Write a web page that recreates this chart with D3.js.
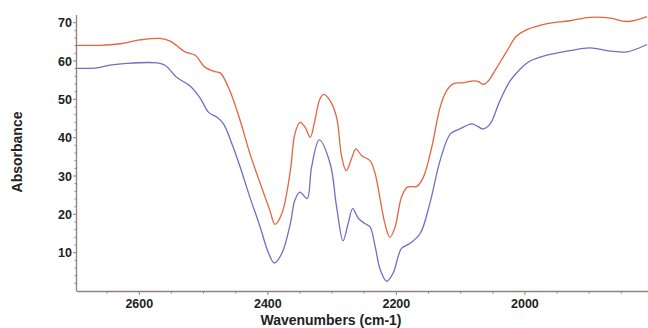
<!DOCTYPE html>
<html>
  <head>
    <meta charset="utf-8">
    <title>spectrum</title>
    <style>
      body { margin: 0; background: #fff; }
      text { font-family: Arial, "Liberation Sans", sans-serif; font-weight: bold; fill: #222; }
    </style>
  </head>
  <body>
    <script src="https://cdn.jsdelivr.net/npm/d3@7"></script>
    <script>
      var width = 648, height = 328;

      // upper (red) trace: wavenumber / value
      var redWave = [2697, 2661, 2630, 2599, 2568, 2552, 2529, 2513, 2498, 2482, 2474, 2459, 2443, 2428, 2412, 2397, 2389, 2378, 2365, 2358, 2350, 2342, 2334, 2327, 2319, 2313, 2303, 2293, 2285, 2278, 2269, 2263, 2254, 2241, 2233, 2225, 2218, 2210, 2202, 2192, 2183, 2168, 2158, 2145, 2132, 2122, 2111, 2096, 2080, 2072, 2065, 2057, 2044, 2028, 2013, 1997, 1976, 1961, 1930, 1899, 1867, 1841, 1810];
      var redVal = [64.1, 64.1, 64.5, 65.5, 65.9, 65.2, 62.4, 61.5, 58.4, 57.2, 56.9, 52.2, 44.4, 35.9, 28.1, 21.1, 17.4, 20.3, 31.4, 41.0, 44.0, 42.7, 40.1, 44.4, 50.1, 51.3, 49.6, 45.3, 34.9, 31.4, 34.9, 37.1, 35.3, 34.0, 30.6, 23.7, 17.7, 14.0, 16.7, 24.5, 27.1, 27.3, 29.7, 37.5, 47.9, 52.2, 54.1, 54.3, 54.8, 54.6, 53.9, 54.8, 58.2, 62.6, 66.5, 68.2, 69.3, 69.9, 70.5, 71.4, 71.2, 70.3, 71.6];

      // lower (blue) trace
      var blueWave = [2697, 2666, 2646, 2619, 2572, 2560, 2541, 2521, 2506, 2492, 2479, 2469, 2456, 2443, 2428, 2412, 2399, 2390, 2378, 2365, 2358, 2350, 2339, 2332, 2320, 2303, 2293, 2283, 2275, 2268, 2259, 2249, 2241, 2233, 2225, 2215, 2205, 2192, 2179, 2163, 2148, 2132, 2116, 2101, 2083, 2075, 2065, 2054, 2039, 2023, 2008, 1992, 1976, 1961, 1930, 1899, 1867, 1841, 1810];
      var blueVal = [58.1, 58.2, 58.9, 59.4, 59.5, 58.9, 55.6, 53.5, 50.5, 46.6, 45.3, 43.6, 38.4, 32.3, 24.5, 16.7, 9.9, 7.3, 9.9, 17.6, 23.7, 25.8, 24.1, 32.3, 39.4, 33.2, 21.9, 13.1, 17.6, 21.5, 18.9, 17.6, 16.7, 11.6, 5.5, 2.5, 4.7, 11.1, 12.4, 15.0, 22.8, 34.0, 41.0, 42.3, 43.6, 43.1, 42.3, 43.6, 49.6, 54.8, 57.8, 60.0, 61.0, 61.7, 62.7, 63.4, 62.6, 62.4, 64.3];

      var xTicks = [2600, 2400, 2200, 2000];
      var yTicks = [10, 20, 30, 40, 50, 60, 70];

      // plot box (named so they don't clash with window.top)
      var plotL = 77, plotR = 647, plotT = 15, plotB = 291;

      var x = d3.scaleLinear().domain([2697, 1810]).range([plotL, plotR]);
      var y = d3.scaleLinear().domain([0, 72]).range([plotB, plotT]);

      var svg = d3.select("body").append("svg")
        .attr("width", width)
        .attr("height", height);

      svg.append("defs").append("clipPath").attr("id", "plot")
        .append("rect")
        .attr("x", plotL).attr("y", plotT - 5)
        .attr("width", plotR - plotL + 2).attr("height", plotB - plotT + 5);

      var axisColor = "#8f817c";

      // minor ticks
      var g = svg.append("g");
      g.selectAll(".xm")
        .data(d3.range(1850, 2700, 50))
        .enter().append("line")
        .attr("x1", d => x(d)).attr("x2", d => x(d))
        .attr("y1", plotB).attr("y2", d => xTicks.indexOf(d) >= 0 ? plotB + 4 : plotB + 2.5)
        .style("stroke", axisColor);
      g.selectAll(".ym")
        .data(d3.range(2, 72, 2))
        .enter().append("line")
        .attr("y1", d => y(d)).attr("y2", d => y(d))
        .attr("x1", plotL).attr("x2", d => yTicks.indexOf(d) >= 0 ? plotL - 4 : plotL - 2.5)
        .style("stroke", axisColor);

      // axis lines
      svg.append("line")
        .attr("x1", plotL).attr("x2", plotR + 1).attr("y1", plotB + 0.5).attr("y2", plotB + 0.5)
        .style("stroke", axisColor).style("stroke-width", 1.3);
      svg.append("line")
        .attr("x1", plotL - 0.5).attr("x2", plotL - 0.5).attr("y1", plotT).attr("y2", plotB + 0.5)
        .style("stroke", axisColor).style("stroke-width", 1.3);

      // tick labels
      svg.selectAll(".xl")
        .data(xTicks)
        .enter().append("text")
        .attr("x", d => x(d)).attr("y", plotB + 17)
        .attr("text-anchor", "middle")
        .style("font-size", "12.5px")
        .text(d => d);
      svg.selectAll(".yl")
        .data(yTicks)
        .enter().append("text")
        .attr("x", plotL - 5).attr("y", d => y(d) + 4.5)
        .attr("text-anchor", "end")
        .style("font-size", "12.5px")
        .text(d => d);

      svg.append("text")
        .attr("x", 331).attr("y", 325)
        .attr("text-anchor", "middle")
        .style("font-size", "14px")
        .text("Wavenumbers (cm-1)");
      svg.append("text")
        .attr("transform", "translate(22,152) rotate(-90)")
        .attr("text-anchor", "middle")
        .style("font-size", "14px")
        .text("Absorbance");

      var line = d3.line()
        .x(d => x(d[0]))
        .y(d => y(d[1]))
        .curve(d3.curveCatmullRom.alpha(0.5));

      var plot = svg.append("g").attr("clip-path", "url(#plot)");
      plot.append("path")
        .datum(redWave.map((w, i) => [w, redVal[i]]))
        .attr("d", line)
        .style("fill", "none")
        .style("stroke", "#e6643f")
        .style("stroke-width", 1.3);
      plot.append("path")
        .datum(blueWave.map((w, i) => [w, blueVal[i]]))
        .attr("d", line)
        .style("fill", "none")
        .style("stroke", "#6f6fc6")
        .style("stroke-width", 1.3);
    </script>
  </body>
</html>
